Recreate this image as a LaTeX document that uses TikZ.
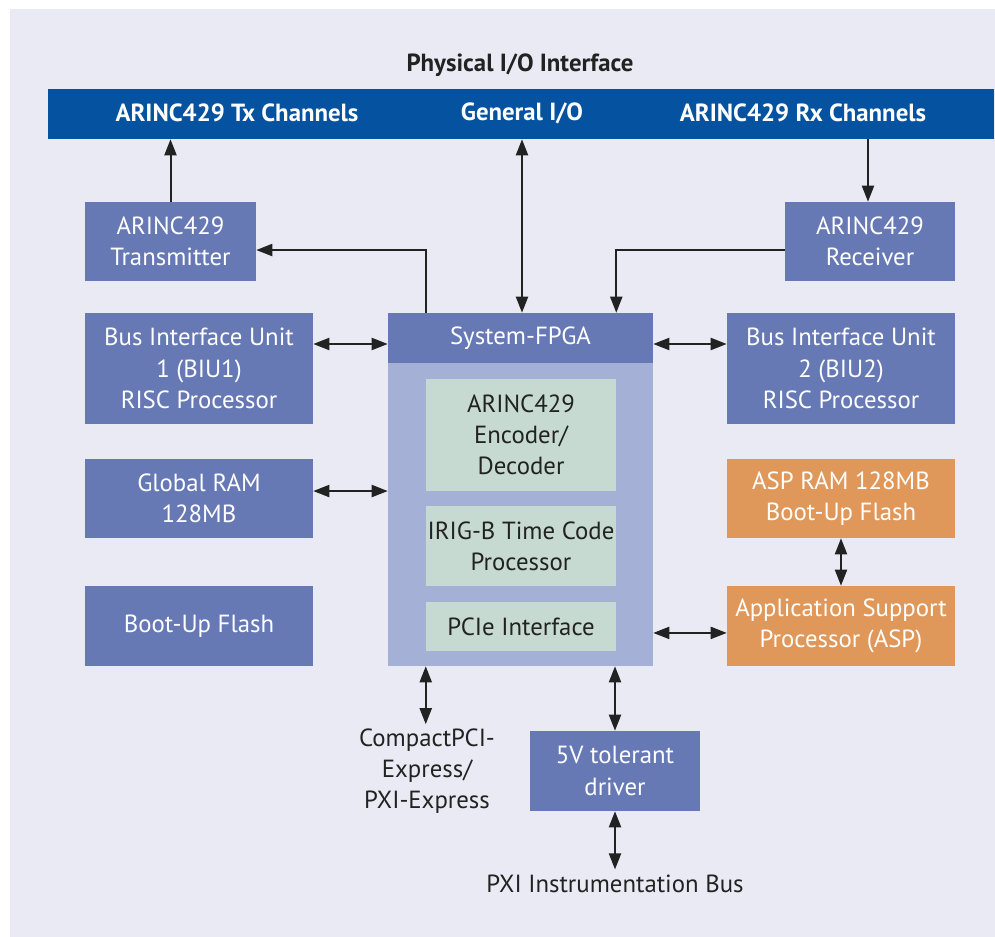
\documentclass[tikz,border=0pt]{standalone}
\usepackage{fontspec}
\setmainfont{PT Sans}
\usetikzlibrary{arrows.meta}
\definecolor{barblue}{HTML}{0553A0}
\definecolor{boxblue}{HTML}{6679B5}
\definecolor{fpgabody}{HTML}{A5B0D7}
\definecolor{coregreen}{HTML}{C6DAD2}
\definecolor{asporange}{HTML}{DF9859}
\definecolor{backlav}{HTML}{EAEAF4}
\definecolor{inkdark}{HTML}{222222}

\begin{document}
\begin{tikzpicture}[x=0.75pt,y=-0.75pt,
  every node/.style={font=\fontsize{18.6}{23.4}\selectfont,align=center,inner sep=0pt},
  boldtxt/.style={font=\fontsize{18.6}{23.4}\selectfont\bfseries},
  blk/.style={fill=boxblue,text=white,minimum width=171pt,minimum height=59.25pt},
  aspblk/.style={blk,fill=asporange},
  core/.style={fill=coregreen,text=inkdark,minimum width=142.5pt},
  plain/.style={text=inkdark},
  link/.style={draw=inkdark,line width=1.5pt,-{Triangle[length=12pt,width=9pt]}},
  dlink/.style={link,{Triangle[length=12pt,width=9pt]}-{Triangle[length=12pt,width=9pt]}}]
  \useasboundingbox (0,0) rectangle (995,937);
  \fill[white] (0,0) rectangle (995,937);
  \fill[backlav] (10,9) rectangle (995,937);

  % physical interface bar
  \node[plain,boldtxt] (title) at (520,65) {Physical I/O Interface};
  \node[fill=barblue,minimum width=709.5pt,minimum height=37.5pt] (bar) at (521,114) {};
  \node[text=white,boldtxt] (txch) at (237,113) {ARINC429 Tx Channels};
  \node[text=white,boldtxt] (gio) at (522,113) {General I/O};
  \node[text=white,boldtxt] (rxch) at (803,113) {ARINC429 Rx Channels};

  % left column
  \node[blk,minimum width=128.25pt] (trans) at (170.5,241.5) {ARINC429\\Transmitter};
  \node[blk,minimum height=83.25pt] (biu1) at (199,368.5) {Bus Interface Unit\\1 (BIU1)\\RISC Processor};
  \node[blk] (gram) at (199,498.5) {Global RAM\\128MB};
  \node[blk,minimum height=60pt] (flash) at (199,626) {Boot-Up Flash};

  % right column
  \node[blk,minimum width=127.5pt] (recv) at (870,241.5) {ARINC429\\Receiver};
  \node[blk,minimum height=83.25pt] (biu2) at (841,368.5) {Bus Interface Unit\\2 (BIU2)\\RISC Processor};
  \node[aspblk] (asprm) at (841,498.5) {ASP RAM 128MB\\Boot-Up Flash};
  \node[aspblk,minimum height=60pt] (asp) at (841,626) {Application Support\\Processor (ASP)};

  % system FPGA
  \node[fill=fpgabody,minimum width=198.75pt,minimum height=264.75pt] (fpga) at (520.5,489.5) {};
  \node[blk,minimum width=198.75pt,minimum height=37.5pt] (hdr) at (520.5,338) {System-FPGA};
  \node[core,minimum height=84pt] (enc) at (521,435) {ARINC429\\Encoder/\\Decoder};
  \node[core,minimum height=60pt] (irig) at (521,546) {IRIG-B Time Code\\Processor};
  \node[core,minimum height=36.75pt] (pcie) at (521,626.5) {PCIe Interface};

  % bottom
  \node[blk,minimum width=127.5pt,minimum height=60pt] (drv) at (615,771) {5V tolerant\\driver};
  \node[plain] (cpci) at (427,771) {CompactPCI-\\Express/\\PXI-Express};
  \node[plain] (pxi) at (615,884) {PXI Instrumentation Bus};

  % connections
  \draw[link] (trans.north) -- (trans.north |- bar.south);
  \draw[link] (bar.south -| 868,0) -- (recv.north -| 868,0);
  \draw[dlink] (bar.south -| gio) -- (fpga.north -| gio);
  \draw[link] (fpga.north -| enc.west) |- ([yshift=-6.4pt]trans.east);
  \draw[link] ([yshift=-6.4pt]recv.west) -| (fpga.north -| enc.east);
  \draw[dlink] ([yshift=-4.5pt]hdr.west -| biu1.east) -- ([yshift=-4.5pt]hdr.west);
  \draw[dlink] ([yshift=-4.5pt]hdr.east) -- ([yshift=-4.5pt]hdr.east -| biu2.west);
  \draw[dlink] ([yshift=5.6pt]gram.east) -- ([yshift=5.6pt]gram.east -| fpga.west);
  \draw[dlink] ([yshift=-5.2pt]asp.west -| fpga.east) -- ([yshift=-5.2pt]asp.west);
  \draw[dlink] (asprm.south) -- (asp.north);
  \draw[dlink] (fpga.south -| enc.west) -- ([yshift=3pt]cpci.north -| enc.west);
  \draw[dlink] (fpga.south -| drv) -- (drv.north);
  \draw[dlink] (drv.south) -- ([yshift=4pt]pxi.north);
\end{tikzpicture}
\end{document}
